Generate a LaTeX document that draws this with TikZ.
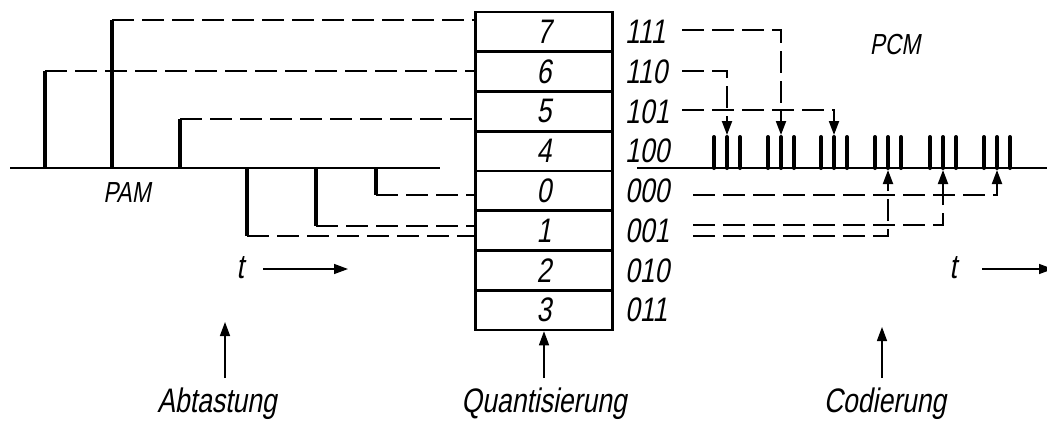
\documentclass[tikz,border=0pt]{standalone}
\usepackage{fontspec}
\setmainfont{Liberation Sans}[FakeStretch=0.78,FakeSlant=0.18]
\usetikzlibrary{arrows.meta}
\begin{document}
\begin{tikzpicture}[x=1pt,y=-1pt,
  lbl/.style={font=\fontsize{34}{34}\selectfont, inner sep=0pt},
  small/.style={font=\fontsize{29}{29}\selectfont, inner sep=0pt},
  row/.style={draw, line width=2.6pt, minimum width=137pt, minimum height=39.75pt, inner sep=0pt, font=\fontsize{34}{34}\selectfont},
  axis/.style={line width=2.8pt},
  pulse/.style={line width=3.6pt},
  bar/.style={line width=4pt, line cap=round},
  dsh/.style={line width=2pt, dash pattern=on 22pt off 8pt},
  tip/.style={-{Triangle[length=14pt,width=10pt]}},
  thin/.style={line width=1.4pt}
]
\useasboundingbox (0,0) rectangle (1047,421);

% quantisation box
\node[row] (r7) at (544,31.9) {7};
\node[row] (r6) at (544,71.6) {6};
\node[row] (r5) at (544,111.4) {5};
\node[row] (r4) at (544,151.1) {4};
\node[row] (r0) at (544,190.9) {0};
\node[row] (r1) at (544,230.6) {1};
\node[row] (r2) at (544,270.4) {2};
\node[row] (r3) at (544,310.1) {3};

% code words
\node[lbl,anchor=west] (c111) at (625,31.9) {111};
\node[lbl,anchor=west] (c110) at (625,71.6) {110};
\node[lbl,anchor=west] (c101) at (625,111.4) {101};
\node[lbl,anchor=west] (c100) at (625,151.1) {100};
\node[lbl,anchor=west] (c000) at (625,190.9) {000};
\node[lbl,anchor=west] (c001) at (625,230.6) {001};
\node[lbl,anchor=west] (c010) at (625,270.4) {010};
\node[lbl,anchor=west] (c011) at (625,310.1) {011};

% PAM axis and samples
\coordinate (la) at (10,168);
\coordinate (lb) at (440,168);
\draw[axis] (la) -- (lb);
\coordinate (p1b) at (45,168);  \coordinate (p1) at (45,71);
\coordinate (p2b) at (112,168); \coordinate (p2) at (112,20);
\coordinate (p3b) at (180,168); \coordinate (p3) at (180,119);
\coordinate (p4b) at (247,168); \coordinate (p4) at (247,236);
\coordinate (p5b) at (316,168); \coordinate (p5) at (316,226);
\coordinate (p6b) at (376,168); \coordinate (p6) at (376,195);
\foreach \i in {1,...,6} {\draw[pulse] (p\i b) -- (p\i);}
\draw[dsh] (p1) -- (p1 -| r6.west);
\draw[dsh] (p2) -- (p2 -| r7.west);
\draw[dsh] (p3) -- (p3 -| r5.west);
\draw[dsh] (p4) -- (p4 -| r1.west);
\draw[dsh] (p5) -- (p5 -| r1.west);
\draw[dsh] (p6) -- (p6 -| r0.west);
\node[small] (pam) at (127,193) {PAM};

% PCM axis and pulse groups
\coordinate (ra) at (637,168);
\coordinate (rb) at (1047,168);
\draw[axis] (ra) -- (rb);
\foreach \n/\x in {1/727,2/781,3/834,4/888,5/943,6/997} {
  \coordinate (g\n) at (\x,135);
  \coordinate (h\n) at (\x,170);
  \foreach \d in {-13,0,13} {\draw[bar] (\x+\d,168) -- (\x+\d,137);}
}
\node[small] (pcm) at (895,45) {PCM};

% code transfer lines
\coordinate (s111) at (682,30);
\coordinate (s110) at (682,71);
\coordinate (s101) at (682,110);
\coordinate (s000) at (693,195);
\coordinate (s001a) at (693,225);
\coordinate (s001b) at (693,236);
\draw[dsh,tip] (s110) -| (g1);
\draw[dsh,tip] (s111) -| (g2);
\draw[dsh,tip] (s101) -| (g3);
\draw[dsh,tip] (s001b) -| (h4);
\draw[dsh,tip] (s001a) -| (h5);
\draw[dsh,tip] (s000) -| (h6);

% time arrows
\node[lbl] (t1) at (240,268) {t};
\coordinate (t1a) at (263,269); \coordinate (t1b) at (348,269);
\draw[thin,tip] (t1a) -- (t1b);
\node[lbl] (t2) at (953,268) {t};
\coordinate (t2a) at (982,269); \coordinate (t2b) at (1053,269);
\draw[thin,tip] (t2a) -- (t2b);

% step labels
\node[lbl] (abt) at (217,404) {Abtastung};
\node[lbl] (qua) at (544,404) {Quantisierung};
\node[lbl] (cod) at (885,404) {Codierung};
\coordinate (a1) at (225,322); \coordinate (a1s) at (225,378);
\coordinate (a3) at (882,327); \coordinate (a3s) at (882,378);
\coordinate (a2s) at (544,378);
\draw[thin,tip] (a1s) -- (a1);
\draw[thin,tip] (a2s) -- (r3.south);
\draw[thin,tip] (a3s) -- (a3);
\end{tikzpicture}
\end{document}
